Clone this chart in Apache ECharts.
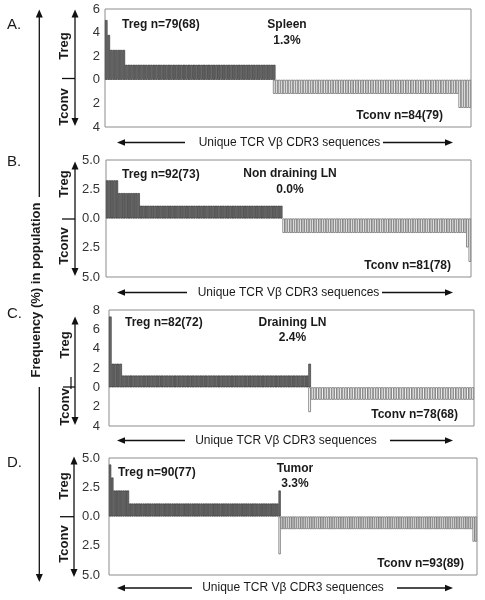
<!DOCTYPE html>
<html><head><meta charset="utf-8">
<script src="https://cdn.jsdelivr.net/npm/echarts@6/dist/echarts.min.js"></script>
<style>html,body{margin:0;padding:0;background:#fff}#c{width:485px;height:600px}</style>
</head><body><div id="c"></div>
<script>
// ---- data: clone frequencies (%) per unique TCR Vbeta CDR3 sequence ----
const tregA = [
5.06,3.80,2.53,2.53,2.53,2.53,2.53,2.53,1.27,1.27,
1.27,1.27,1.27,1.27,1.27,1.27,1.27,1.27,1.27,1.27,
1.27,1.27,1.27,1.27,1.27,1.27,1.27,1.27,1.27,1.27,
1.27,1.27,1.27,1.27,1.27,1.27,1.27,1.27,1.27,1.27,
1.27,1.27,1.27,1.27,1.27,1.27,1.27,1.27,1.27,1.27,
1.27,1.27,1.27,1.27,1.27,1.27,1.27,1.27,1.27,1.27,
1.27,1.27,1.27,1.27,1.27,1.27,1.27,1.27];
const tconvA = [
1.19,1.19,1.19,1.19,1.19,1.19,1.19,1.19,1.19,1.19,
1.19,1.19,1.19,1.19,1.19,1.19,1.19,1.19,1.19,1.19,
1.19,1.19,1.19,1.19,1.19,1.19,1.19,1.19,1.19,1.19,
1.19,1.19,1.19,1.19,1.19,1.19,1.19,1.19,1.19,1.19,
1.19,1.19,1.19,1.19,1.19,1.19,1.19,1.19,1.19,1.19,
1.19,1.19,1.19,1.19,1.19,1.19,1.19,1.19,1.19,1.19,
1.19,1.19,1.19,1.19,1.19,1.19,1.19,1.19,1.19,1.19,
1.19,1.19,1.19,1.19,2.38,2.38,2.38,2.38,2.38];
const tregB = [
3.26,3.26,3.26,3.26,3.26,2.17,2.17,2.17,2.17,2.17,
2.17,2.17,2.17,2.17,1.09,1.09,1.09,1.09,1.09,1.09,
1.09,1.09,1.09,1.09,1.09,1.09,1.09,1.09,1.09,1.09,
1.09,1.09,1.09,1.09,1.09,1.09,1.09,1.09,1.09,1.09,
1.09,1.09,1.09,1.09,1.09,1.09,1.09,1.09,1.09,1.09,
1.09,1.09,1.09,1.09,1.09,1.09,1.09,1.09,1.09,1.09,
1.09,1.09,1.09,1.09,1.09,1.09,1.09,1.09,1.09,1.09,
1.09,1.09,1.09];
const tconvB = [
1.23,1.23,1.23,1.23,1.23,1.23,1.23,1.23,1.23,1.23,
1.23,1.23,1.23,1.23,1.23,1.23,1.23,1.23,1.23,1.23,
1.23,1.23,1.23,1.23,1.23,1.23,1.23,1.23,1.23,1.23,
1.23,1.23,1.23,1.23,1.23,1.23,1.23,1.23,1.23,1.23,
1.23,1.23,1.23,1.23,1.23,1.23,1.23,1.23,1.23,1.23,
1.23,1.23,1.23,1.23,1.23,1.23,1.23,1.23,1.23,1.23,
1.23,1.23,1.23,1.23,1.23,1.23,1.23,1.23,1.23,1.23,
1.23,1.23,1.23,1.23,1.23,1.23,2.47,3.70];
const tregC = [
7.32,2.44,2.44,2.44,2.44,1.22,1.22,1.22,1.22,1.22,
1.22,1.22,1.22,1.22,1.22,1.22,1.22,1.22,1.22,1.22,
1.22,1.22,1.22,1.22,1.22,1.22,1.22,1.22,1.22,1.22,
1.22,1.22,1.22,1.22,1.22,1.22,1.22,1.22,1.22,1.22,
1.22,1.22,1.22,1.22,1.22,1.22,1.22,1.22,1.22,1.22,
1.22,1.22,1.22,1.22,1.22,1.22,1.22,1.22,1.22,1.22,
1.22,1.22,1.22,1.22,1.22,1.22,1.22,1.22,1.22,1.22,
1.22,1.22,1.22,1.22,1.22,1.22,1.22,2.44];
const tconvC = [
2.56,1.28,1.28,1.28,1.28,1.28,1.28,1.28,1.28,1.28,
1.28,1.28,1.28,1.28,1.28,1.28,1.28,1.28,1.28,1.28,
1.28,1.28,1.28,1.28,1.28,1.28,1.28,1.28,1.28,1.28,
1.28,1.28,1.28,1.28,1.28,1.28,1.28,1.28,1.28,1.28,
1.28,1.28,1.28,1.28,1.28,1.28,1.28,1.28,1.28,1.28,
1.28,1.28,1.28,1.28,1.28,1.28,1.28,1.28,1.28,1.28,
1.28,1.28,1.28,1.28];
const tregD = [
4.44,3.33,2.22,2.22,2.22,2.22,2.22,2.22,2.22,1.11,
1.11,1.11,1.11,1.11,1.11,1.11,1.11,1.11,1.11,1.11,
1.11,1.11,1.11,1.11,1.11,1.11,1.11,1.11,1.11,1.11,
1.11,1.11,1.11,1.11,1.11,1.11,1.11,1.11,1.11,1.11,
1.11,1.11,1.11,1.11,1.11,1.11,1.11,1.11,1.11,1.11,
1.11,1.11,1.11,1.11,1.11,1.11,1.11,1.11,1.11,1.11,
1.11,1.11,1.11,1.11,1.11,1.11,1.11,1.11,1.11,1.11,
1.11,1.11,1.11,1.11,1.11,1.11,2.22];
const tconvD = [
3.23,1.08,1.08,1.08,1.08,1.08,1.08,1.08,1.08,1.08,
1.08,1.08,1.08,1.08,1.08,1.08,1.08,1.08,1.08,1.08,
1.08,1.08,1.08,1.08,1.08,1.08,1.08,1.08,1.08,1.08,
1.08,1.08,1.08,1.08,1.08,1.08,1.08,1.08,1.08,1.08,
1.08,1.08,1.08,1.08,1.08,1.08,1.08,1.08,1.08,1.08,
1.08,1.08,1.08,1.08,1.08,1.08,1.08,1.08,1.08,1.08,
1.08,1.08,1.08,1.08,1.08,1.08,1.08,1.08,1.08,1.08,
1.08,1.08,1.08,1.08,1.08,1.08,1.08,1.08,1.08,1.08,
1.08,1.08,1.08,1.08,1.08,1.08,1.08,2.15,2.15];
// index at which the Tconv sequences start (shared sequence overlaps the last Treg one)
const tconvStart = [67, 73, 77, 76];
const panelLetters = ['A.', 'B.', 'C.', 'D.'];
const tissues = ['Spleen', 'Non draining LN', 'Draining LN', 'Tumor'];
const sharedPct = ['1.3%', '0.0%', '2.4%', '3.3%'];
const tregLabels = ['Treg n=79(68)', 'Treg n=92(73)', 'Treg n=82(72)', 'Treg n=90(77)'];
const tconvLabels = ['Tconv n=84(79)', 'Tconv n=81(78)', 'Tconv n=78(68)', 'Tconv n=93(89)'];
const yMin = [-4, -5, -4, -5], yMax = [6, 5, 8, 5], yStep = [2, 2.5, 2, 2.5];

// ---- layout ----
const tregs = [tregA, tregB, tregC, tregD];
const tconvs = [tconvA, tconvB, tconvC, tconvD];
const grids = [
  {left:105, top:9, width:366, height:118},
  {left:106, top:160, width:365, height:117},
  {left:109, top:310, width:365, height:116},
  {left:109, top:458, width:368, height:117}
];
const lay = [
  {tregX:122, tregY:25, titleX:287, titleY:25, pctY:41, tconvX:443, tconvY:116,
   capY:142.5, capX:289.5, la:[117,185], ra:[383,453], letY:25,
   rx:64, trY:46, tcY:107, tick:[62,75,78.5], arX:75, arT:9.5, arB:126},
  {tregX:122, tregY:175, titleX:290, titleY:174, pctY:190, tconvX:451, tconvY:266,
   capY:292.5, capX:288.5, la:[117,187], ra:[382,453], letY:162,
   rx:64, trY:184, tcY:246, tick:[62,75,219], arX:75, arT:161.5, arB:276},
  {tregX:125, tregY:323, titleX:292.5, titleY:323, pctY:338, tconvX:458, tconvY:415,
   capY:440.5, capX:286, la:[117,185], ra:[390,453], letY:314,
   rx:65, trY:345, tcY:407, tick:[63,75,387], arX:75, arT:316.5, arB:425},
  {tregX:118, tregY:473, titleX:295, titleY:469, pctY:484, tconvX:464, tconvY:564,
   capY:588, capX:293, la:[117,192], ra:[397,453], letY:463,
   rx:64, trY:486, tcY:544, tick:[60,74,516.7], arX:74, arT:456.5, arB:577}
];

const FONT = '"Liberation Sans", Arial, sans-serif';
const option = {animation:false, grid:[], xAxis:[], yAxis:[], series:[], graphic:[]};
const G = option.graphic;
function txt(x, y, t, size, bold, align, rot) {
  G.push({type:'text', x:x, y:y, rotation:rot||0, silent:true,
    style:{text:t, x:0, y:0, fill:'#1a1a1a', font:(bold?'bold ':'') + size + 'px ' + FONT,
      textAlign:align||'left', textVerticalAlign:'middle'}});
}
function line(x1, y1, x2, y2, w) {
  G.push({type:'line', silent:true, shape:{x1:x1,y1:y1,x2:x2,y2:y2}, style:{stroke:'#111', lineWidth:w||1.2}});
}
function head(x, y, dir, len, hw) { // dir: 'up','down','left','right'
  let p;
  if (dir==='up') p=[[x,y],[x-hw,y+len],[x+hw,y+len]];
  else if (dir==='down') p=[[x,y],[x-hw,y-len],[x+hw,y-len]];
  else if (dir==='left') p=[[x,y],[x+len,y-hw],[x+len,y+hw]];
  else p=[[x,y],[x-len,y-hw],[x-len,y+hw]];
  G.push({type:'polygon', silent:true, shape:{points:p}, style:{fill:'#111'}});
}

for (let i = 0; i < 4; i++) {
  const tr = tregs[i], tc = tconvs[i], st = tconvStart[i];
  const n = st + tc.length;
  const cats = [], dT = [], dC = [];
  for (let k = 0; k < n; k++) {
    cats.push(String(k + 1));
    dT.push(k < tr.length ? tr[k] : '-');
    dC.push(k >= st ? -tc[k - st] : '-');
  }
  option.grid.push(Object.assign({show:true, borderColor:'#8c8c8c', borderWidth:1, backgroundColor:'#fff'}, grids[i]));
  option.xAxis.push({type:'category', gridIndex:i, data:cats, show:false,
    axisLine:{show:false}, axisTick:{show:false}, axisLabel:{show:false}});
  const dec = yStep[i] % 1 !== 0;
  option.yAxis.push({type:'value', gridIndex:i, min:yMin[i], max:yMax[i], interval:yStep[i],
    axisLine:{show:false}, axisTick:{show:false}, splitLine:{show:false},
    axisLabel:{color:'#333', fontSize:13, fontFamily:FONT, margin:grids[i].left - 100,
      formatter: v => dec ? Math.abs(v).toFixed(1) : String(Math.abs(v))}});
  option.series.push({type:'bar', name:'Treg', xAxisIndex:i, yAxisIndex:i, data:dT,
    barGap:'-100%', barCategoryGap:'0%',
    itemStyle:{color:'#6e6e6e', borderColor:'#2a2a2a', borderWidth:0.6}});
  option.series.push({type:'bar', name:'Tconv', xAxisIndex:i, yAxisIndex:i, data:dC,
    barGap:'-100%', barCategoryGap:'0%',
    itemStyle:{color:'#ffffff', borderColor:'#5e5e5e', borderWidth:0.7}});

  const L = lay[i];
  txt(L.tregX, L.tregY, tregLabels[i], 12, true, 'left');
  txt(L.titleX, L.titleY, tissues[i], 12, true, 'center');
  txt(L.titleX, L.pctY, sharedPct[i], 12, true, 'center');
  txt(L.tconvX, L.tconvY, tconvLabels[i], 12, true, 'right');
  // caption with arrows
  txt(L.capX, L.capY, 'Unique TCR Vβ CDR3 sequences', 12, false, 'center');
  line(L.la[0] + 6, L.capY, L.la[1], L.capY, 1.3); head(L.la[0], L.capY, 'left', 8, 3.2);
  line(L.ra[0], L.capY, L.ra[1] - 6, L.capY, 1.3); head(L.ra[1], L.capY, 'right', 8, 3.2);
  // panel letter
  txt(7, L.letY, panelLetters[i], 15, false, 'left');
  // Treg / Tconv side arrow
  line(L.arX, L.arT + 6, L.arX, L.arB - 6, 1.3);
  head(L.arX, L.arT, 'up', 8, 3.5); head(L.arX, L.arB, 'down', 8, 3.5);
  line(L.tick[0], L.tick[2], L.tick[1], L.tick[2], 1.3);
  txt(L.rx, L.trY, 'Treg', 13, true, 'center', Math.PI / 2);
  txt(L.rx, L.tcY, 'Tconv', 13, true, 'center', Math.PI / 2);
}
line(71, 377, 71, 389, 1.2);
// big vertical axis arrow
line(39.3, 15, 39.3, 197, 1.3); head(39.3, 9.5, 'up', 8, 3.5);
line(39.3, 387, 39.3, 576, 1.3); head(39.3, 582, 'down', 8, 3.5);
txt(36, 290, 'Frequency (%) in population', 13, true, 'center', Math.PI / 2);

const chart = echarts.init(document.getElementById('c'), null, {renderer:'canvas'});
chart.setOption(option);
</script></body></html>
